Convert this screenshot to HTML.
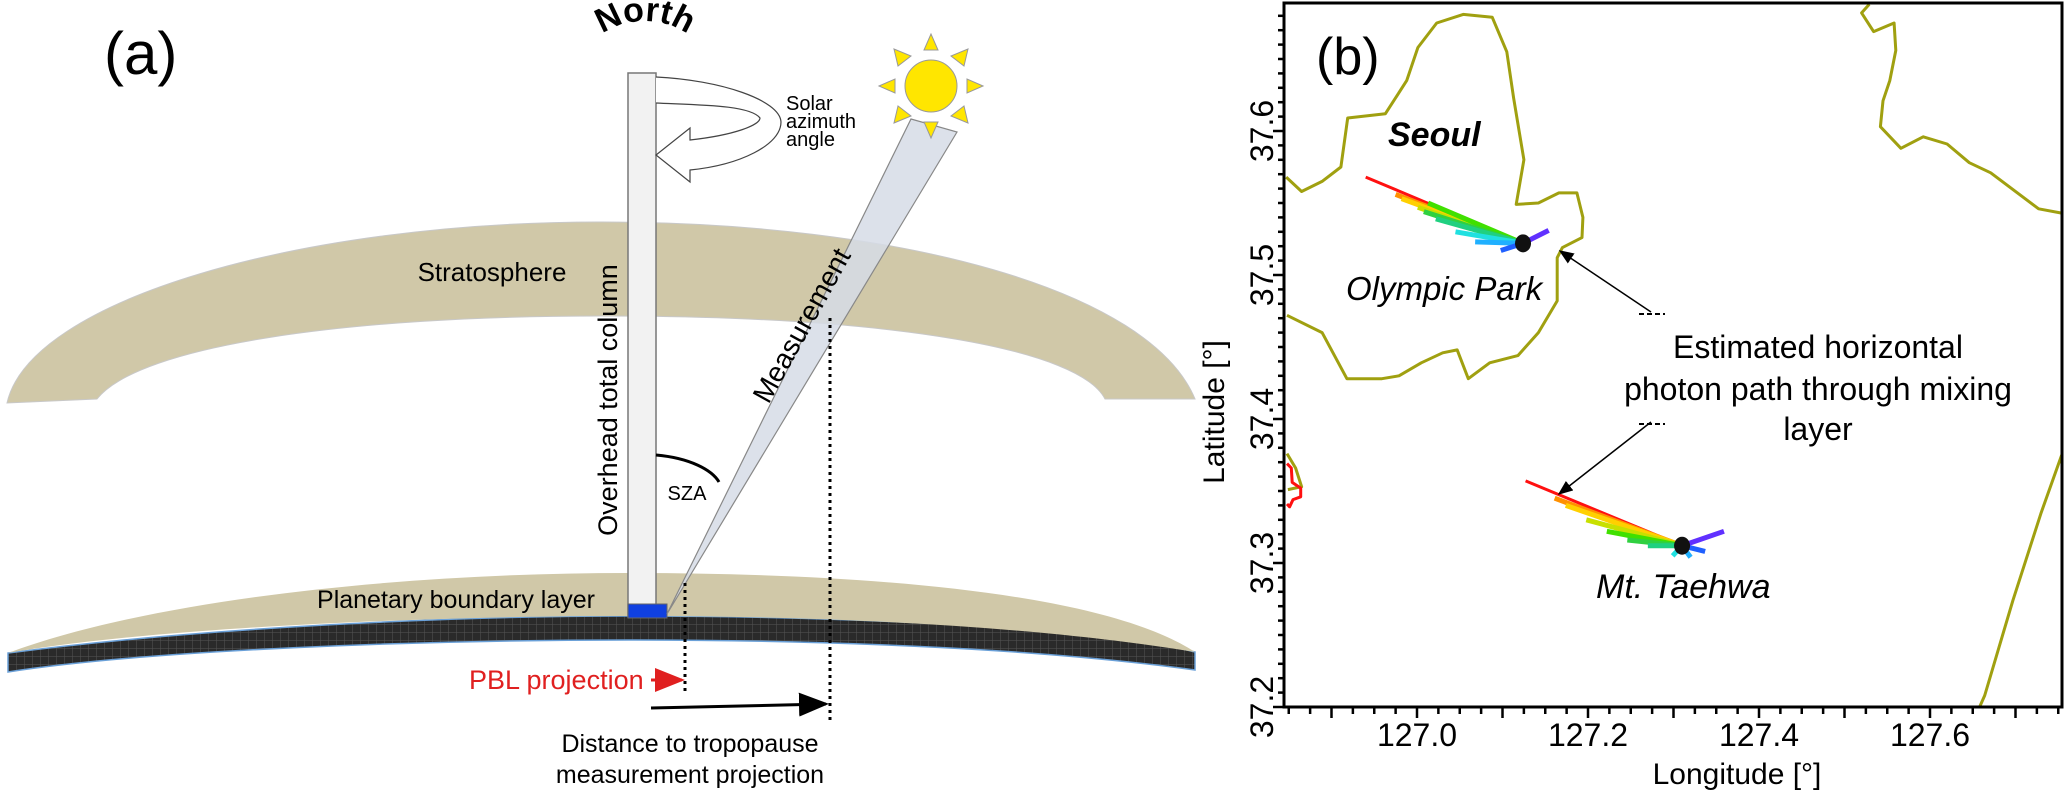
<!DOCTYPE html>
<html><head><meta charset="utf-8"><style>
html,body{margin:0;padding:0;background:#fff;width:2067px;height:792px;overflow:hidden}
svg{display:block}
.n{font-family:"Liberation Sans Narrow","Liberation Sans",sans-serif}
.s{font-family:"Liberation Sans",sans-serif}
</style></head><body>
<svg id="fig" width="2067" height="792" viewBox="0 0 2067 792" xmlns="http://www.w3.org/2000/svg">
<defs>
<pattern id="grid" width="8" height="8" patternUnits="userSpaceOnUse"><rect width="8" height="8" fill="#2a2a2a"/><path d="M0 0H8M0 0V8" stroke="#555" stroke-width="1"/></pattern>
<marker id="ah" markerWidth="10" markerHeight="8" refX="9" refY="4" orient="auto"><path d="M0 0L10 4L0 8Z" fill="#000"/></marker>
<marker id="ahr" markerWidth="10" markerHeight="8" refX="9" refY="4" orient="auto"><path d="M0 0L10 4L0 8Z" fill="#e02020"/></marker>
<path id="northArc" d="M585 66 A60 45 0 0 1 705 66"/>
</defs>
<g>
<text x="104" y="74" class="n" font-size="60">(a)</text>
<path d="M7,403 C30,300 300,222 600,222 C900,222 1150,290 1195,399 L1105,399 C1080,350 900,316 600,316 C350,316 140,345 97,399 Z" fill="#d0c8a8" stroke="#c8c8c8" stroke-width="1"/>
<text x="492" y="281" class="n" font-size="26" text-anchor="middle">Stratosphere</text>
<path d="M8,653 C200,628 450,616 628,616 C850,616 1100,628 1195,652 L1195,670 C1050,650 850,640 628,640 C420,640 150,650 8,672 Z" fill="url(#grid)" stroke="#6aa0d8" stroke-width="1.5"/>
<path d="M8,653 C150,600 400,573 628,573 C850,573 1100,590 1195,652 C1050,628 850,616 628,616 C420,616 150,628 8,653 Z" fill="#d0c8a8"/>
<text x="456" y="608" class="n" font-size="25" text-anchor="middle">Planetary boundary  layer</text>
<rect x="628" y="73" width="28" height="544" fill="#f2f2f2" stroke="#777" stroke-width="1.5"/>
<rect x="628" y="604" width="39" height="14" fill="#1040e0" stroke="#666"/>
<text transform="translate(617,400) rotate(-90)" class="s" font-size="27" text-anchor="middle">Overhead total column</text>
<text class="s" font-size="34" font-weight="bold"><textPath href="#northArc" startOffset="50%" text-anchor="middle">North</textPath></text>
<path d="M656,77 C720,80 780,100 781,122 C781,145 740,165 690,170 L690,182 L656,155 L690,128 L690,140 C735,135 760,125 760,118 C750,105 700,105 656,103" fill="#fff" stroke="#444" stroke-width="1.2"/>
<text class="n" font-size="20"><tspan x="786" y="110">Solar</tspan><tspan x="786" y="128">azimuth</tspan><tspan x="786" y="146">angle</tspan></text>
<path d="M667,614 L911,119 L957,132 Z" fill="#d6dce6" fill-opacity="0.85" stroke="#888" stroke-width="1.2"/>
<text transform="translate(810,330) rotate(-61)" class="s" font-size="28" text-anchor="middle">Measurement</text>
<path d="M656,455 C690,458 712,470 719,482" fill="none" stroke="#000" stroke-width="3"/>
<text x="687" y="500" class="n" font-size="20" text-anchor="middle">SZA</text>
<g fill="#ffe600" stroke="#999" stroke-width="1">
<polygon points="931,34 924,50 938,50"/><polygon points="931,138 924,122 938,122"/>
<polygon points="879,86 895,79 895,93"/><polygon points="983,86 967,79 967,93"/>
<polygon points="894,49 898,66 911,56"/><polygon points="968,49 951,56 964,66"/>
<polygon points="894,123 911,116 898,106"/><polygon points="968,123 964,106 951,116"/>
<circle cx="931" cy="86" r="26"/></g>
<line x1="685" y1="583" x2="685" y2="692" stroke="#000" stroke-width="3" stroke-dasharray="3,4"/>
<line x1="830" y1="318" x2="830" y2="722" stroke="#000" stroke-width="3" stroke-dasharray="3,4"/>
<text x="469" y="689" class="n" font-size="27" fill="#e02020">PBL projection</text>
<line x1="651" y1="680" x2="682" y2="680" stroke="#e02020" stroke-width="3" marker-end="url(#ahr)"/>
<line x1="651" y1="708" x2="826" y2="704" stroke="#000" stroke-width="3" marker-end="url(#ah)"/>
<text class="n" font-size="25" text-anchor="middle"><tspan x="690" y="752">Distance to tropopause</tspan><tspan x="690" y="783">measurement projection</tspan></text>
</g>
<g id="panelB"></g>
</svg>
<script>
const lonTicks=[127.0,127.2,127.4,127.6];
const latTicks=[37.2,37.3,37.4,37.5,37.6];
const seoulLon=[126.847,126.865,126.889,126.911,126.919,126.963,126.988,127.001,127.023,127.054,127.088,127.105,127.113,127.125,127.116,127.142,127.166,127.187,127.194,127.193,127.170,127.164,127.164,127.142,127.118,127.085,127.060,127.047,127.030,127.005,126.979,126.959,126.918,126.889,126.848];
const seoulLat=[37.568,37.558,37.565,37.575,37.609,37.612,37.635,37.658,37.675,37.681,37.679,37.655,37.623,37.580,37.549,37.550,37.557,37.557,37.540,37.526,37.519,37.512,37.482,37.460,37.444,37.439,37.428,37.448,37.446,37.439,37.430,37.428,37.428,37.460,37.472];
const neLon=[127.529,127.520,127.534,127.558,127.560,127.553,127.545,127.542,127.566,127.592,127.620,127.646,127.671,127.727,127.754];
const neLat=[37.688,37.682,37.669,37.675,37.656,37.635,37.621,37.603,37.588,37.596,37.591,37.578,37.571,37.546,37.543];
const seLon=[127.658,127.664,127.697,127.730,127.754];
const seLat=[37.200,37.208,37.274,37.335,37.375];
const swLon=[126.848,126.858,126.865,126.849];
const swLat=[37.376,37.366,37.353,37.351];
const redLon=[126.848,126.853,126.854,126.864,126.864,126.855,126.851,126.848];
const redLat=[37.369,37.366,37.356,37.352,37.346,37.344,37.339,37.341];
const siteNames=["Olympic Park","Mt. Taehwa"];
const siteLon=[127.124,127.310];
const siteLat=[37.522,37.312];
const plumeColors=["#ff1010","#ff9000","#ffd000","#c8e000","#40e000","#30d040","#20d080","#20e0e0","#20b0ff","#2060ff","#6030ff"];
const plumeOPLon=[126.940,126.975,126.982,127.001,127.013,127.008,127.022,127.045,127.068,127.098,127.154];
const plumeOPLat=[37.568,37.556,37.553,37.547,37.550,37.544,37.539,37.530,37.523,37.517,37.531];
const plumeMTLon=[127.127,127.161,127.174,127.198,127.222,127.246,127.270,127.299,127.320,127.337,127.359];
const plumeMTLat=[37.357,37.345,37.340,37.330,37.322,37.316,37.312,37.305,37.304,37.308,37.322];
const L=1284,R=2062,T=3,B=707;
function xs(v){return 1417+(v-127.0)*855;}
function ys(v){return 707-(v-37.2)*1440;}
const NS="http://www.w3.org/2000/svg";
const g=document.getElementById('panelB');
function mk(t,a,p){const e=document.createElementNS(NS,t);for(const k in a)e.setAttribute(k,a[k]);(p||g).appendChild(e);return e;}
const clip=mk('clipPath',{id:'pc'});mk('rect',{x:L,y:T,width:R-L,height:B-T},clip);
const plot=mk('g',{'clip-path':'url(#pc)'});


function poly(lo,la,col,name){const p=lo.map((v,i)=>xs(v).toFixed(1)+','+ys(la[i]).toFixed(1)).join(' ');
const e=mk('polyline',{points:p,fill:'none',stroke:col,'stroke-width':3,'stroke-linejoin':'round'},plot);

}
poly(seoulLon,seoulLat,'#a0a010','seoul-boundary');
poly(neLon,neLat,'#a0a010','northeast-boundary');
poly(seLon,seLat,'#a0a010','southeast-boundary');
poly(swLon,swLat,'#a0a010','southwest-boundary');
poly(redLon,redLat,'#ff1010','red-outline');
function plume(lo,la,si,name){for(let i=0;i<lo.length;i++){const x0=xs(siteLon[si]),y0=ys(siteLat[si]),x1=xs(lo[i]),y1=ys(la[i]);
const e=mk('line',{x1:x0,y1:y0,x2:x1,y2:y1,stroke:plumeColors[i],'stroke-width':i==0?3:5},plot);

}}
plume(plumeOPLon,plumeOPLat,0,'olympic-park-plume');
plume(plumeMTLon,plumeMTLat,1,'mt-taehwa-plume');
siteLon.forEach((v,i)=>{const c=mk('ellipse',{cx:xs(v),cy:ys(siteLat[i]),rx:8,ry:9,fill:'#111'},plot);

});
const ax=mk('rect',{x:L,y:T,width:R-L,height:B-T,fill:'none',stroke:'#000','stroke-width':3});


for(let k=0;k<=36;k++){const v=126.85+k*0.025;const x=xs(v);if(x<L-1||x>R+1)continue;const maj=Math.abs((v*10)-Math.round(v*10))<1e-6;
mk('line',{x1:x,y1:B,x2:x,y2:B+(maj?11:7),stroke:'#000','stroke-width':2.5});}
for(let k=0;k<=49;k++){const v=37.2+k*0.01;const y=ys(v);if(y<T-1)continue;const maj=k%10==0;
mk('line',{x1:L,y1:y,x2:L-(maj?11:6),y2:y,stroke:'#000','stroke-width':2.5});}
lonTicks.forEach(v=>{const t=mk('text',{x:xs(v),y:746,'text-anchor':'middle','font-size':32,class:'n'});t.textContent=v.toFixed(1);

});
latTicks.forEach(v=>{const t=mk('text',{transform:`translate(1273,${ys(v)}) rotate(-90)`,'text-anchor':'middle','font-size':32,class:'s'});t.textContent=v.toFixed(1);

});
let t=mk('text',{x:1737,y:784,'text-anchor':'middle','font-size':30,class:'n'});t.textContent='Longitude [°]';


t=mk('text',{transform:'translate(1224,412) rotate(-90)','text-anchor':'middle','font-size':30,class:'s'});t.textContent='Latitude [°]';


t=mk('text',{x:1316,y:74,'font-size':52,class:'s'});t.textContent='(b)';


t=mk('text',{x:1388,y:146,'font-size':34,'font-weight':'bold','font-style':'italic',class:'s'});t.textContent='Seoul';


t=mk('text',{x:1346,y:300,'font-size':33,'font-style':'italic',class:'s'});t.textContent=siteNames[0];


t=mk('text',{x:1596,y:598,'font-size':34,'font-style':'italic',class:'s'});t.textContent=siteNames[1];


t=mk('text',{'text-anchor':'middle','font-size':32,class:'n'});


[['Estimated horizontal',358],['photon path through mixing',400],['layer',440]].forEach(a=>{const s=mk('tspan',{x:1818,y:a[1]},t);s.textContent=a[0];});
[[1651,312,1560,251],[1651,422,1559,494]].forEach((a,i)=>{const l=mk('line',{x1:a[0],y1:a[1],x2:a[2],y2:a[3],stroke:'#000','stroke-width':1.5,'marker-end':'url(#ah)'});


const d=mk('line',{x1:a[0]-12,y1:a[1]+2,x2:a[0]+14,y2:a[1]+2,stroke:'#000','stroke-width':2,'stroke-dasharray':'5,3'});

});
</script>
</body></html>
